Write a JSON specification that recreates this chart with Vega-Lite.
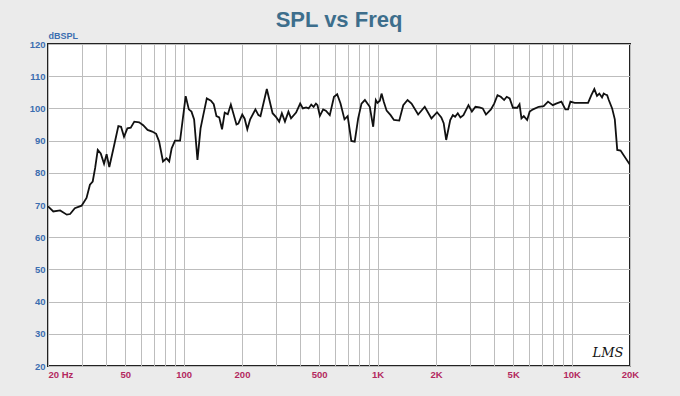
{
  "$schema": "https://vega.github.io/schema/vega-lite/v6.json",
  "width": 582,
  "height": 322,
  "autosize": {"type": "none"},
  "padding": {"left": 48, "top": 44, "right": 50, "bottom": 30},
  "background": "#ebebeb",
  "title": {
    "text": "SPL vs Freq",
    "fontSize": 22,
    "font": "Liberation Sans",
    "fontWeight": "bold",
    "color": "#3d6e8c",
    "anchor": "middle",
    "offset": -1
  },
  "config": {
    "view": {"fill": "white", "stroke": "#222222", "strokeWidth": 2},
    "axis": {
      "grid": true,
      "gridColor": "#bdbdbd",
      "gridWidth": 1,
      "domain": false,
      "ticks": false,
      "labelFont": "Liberation Sans",
      "labelFontWeight": "bold",
      "labelFontSize": 9.5
    }
  },
  "datasets": {
    "spl": [
      {"f": 20, "db": 69.6}, {"f": 21.3, "db": 68}, {"f": 23.1, "db": 68.3}, {"f": 25, "db": 67}, {"f": 26, "db": 67.2},
      {"f": 27.5, "db": 69}, {"f": 29.8, "db": 69.8}, {"f": 31.6, "db": 72.2}, {"f": 32.9, "db": 76.3}, {"f": 34, "db": 77.3},
      {"f": 35, "db": 81.5}, {"f": 36.1, "db": 87.1}, {"f": 37.4, "db": 86}, {"f": 38.9, "db": 82.8}, {"f": 40.1, "db": 85.8},
      {"f": 41.4, "db": 81.8}, {"f": 43.8, "db": 88.4}, {"f": 46.1, "db": 94.5}, {"f": 47.6, "db": 94.3}, {"f": 49.3, "db": 91.2},
      {"f": 51.3, "db": 93.8}, {"f": 53.4, "db": 94}, {"f": 55.7, "db": 95.9}, {"f": 59, "db": 95.7}, {"f": 61.9, "db": 94.8},
      {"f": 65.2, "db": 93.3}, {"f": 68.9, "db": 92.8}, {"f": 72.2, "db": 92.1}, {"f": 74.8, "db": 89.7}, {"f": 78.3, "db": 83.5},
      {"f": 81.7, "db": 84.5}, {"f": 84.3, "db": 83.5}, {"f": 86.8, "db": 87.6}, {"f": 90.3, "db": 90}, {"f": 95.9, "db": 90},
      {"f": 102.5, "db": 103.8}, {"f": 106.4, "db": 99.7}, {"f": 109.8, "db": 99}, {"f": 113.3, "db": 96.6}, {"f": 117.9, "db": 84},
      {"f": 122.3, "db": 93.8}, {"f": 126.3, "db": 97.9}, {"f": 131.7, "db": 103.1}, {"f": 138.3, "db": 102.4}, {"f": 143, "db": 101.3},
      {"f": 147.7, "db": 97.6}, {"f": 152.6, "db": 97.2}, {"f": 157.8, "db": 93.5}, {"f": 162.9, "db": 98.7}, {"f": 169, "db": 98.2},
      {"f": 175.2, "db": 101.2}, {"f": 187.3, "db": 95}, {"f": 191.5, "db": 95.3}, {"f": 200.6, "db": 98.1}, {"f": 206.4, "db": 96.8},
      {"f": 213, "db": 93.5}, {"f": 220.4, "db": 96.6}, {"f": 234.5, "db": 99.7}, {"f": 243, "db": 97.9}, {"f": 249, "db": 97.6},
      {"f": 268.5, "db": 106}, {"f": 287.5, "db": 98.5}, {"f": 299, "db": 97.4}, {"f": 311, "db": 95.9}, {"f": 321, "db": 98.5},
      {"f": 333, "db": 95.9}, {"f": 347, "db": 99}, {"f": 358, "db": 96.9}, {"f": 380, "db": 98.7}, {"f": 399, "db": 101.5},
      {"f": 412, "db": 100}, {"f": 428, "db": 100.3}, {"f": 441, "db": 100}, {"f": 455, "db": 101.2}, {"f": 468, "db": 100.5},
      {"f": 481, "db": 101.5}, {"f": 490, "db": 101}, {"f": 504, "db": 97.7}, {"f": 524, "db": 99.7}, {"f": 541, "db": 99.3},
      {"f": 567, "db": 97.9}, {"f": 596, "db": 103.6}, {"f": 619, "db": 104.4}, {"f": 644, "db": 101.5}, {"f": 675, "db": 96.6},
      {"f": 701, "db": 97.6}, {"f": 732, "db": 89.9}, {"f": 762, "db": 89.7}, {"f": 794, "db": 96.9}, {"f": 826, "db": 101.5},
      {"f": 860, "db": 102.6}, {"f": 911, "db": 100.5}, {"f": 949, "db": 94.3}, {"f": 979, "db": 102.6}, {"f": 999, "db": 101.7},
      {"f": 1027, "db": 102.4}, {"f": 1048, "db": 104.6}, {"f": 1077, "db": 102}, {"f": 1113, "db": 99.3}, {"f": 1167, "db": 97.9},
      {"f": 1214, "db": 96.4}, {"f": 1293, "db": 96.2}, {"f": 1356, "db": 101}, {"f": 1427, "db": 102.6}, {"f": 1496, "db": 101.5},
      {"f": 1618, "db": 98.1}, {"f": 1750, "db": 100.5}, {"f": 1895, "db": 96.9}, {"f": 2025, "db": 98.8}, {"f": 2130, "db": 97.2},
      {"f": 2191, "db": 95.4}, {"f": 2257, "db": 90.2}, {"f": 2368, "db": 96.4}, {"f": 2443, "db": 97.9}, {"f": 2509, "db": 97.4},
      {"f": 2590, "db": 98.5}, {"f": 2673, "db": 97.2}, {"f": 2770, "db": 97.9}, {"f": 2940, "db": 101}, {"f": 3062, "db": 99},
      {"f": 3195, "db": 100.5}, {"f": 3350, "db": 100.3}, {"f": 3482, "db": 100}, {"f": 3619, "db": 98.1}, {"f": 3838, "db": 99.7},
      {"f": 3990, "db": 101.5}, {"f": 4150, "db": 104.1}, {"f": 4314, "db": 103.6}, {"f": 4490, "db": 102.6}, {"f": 4630, "db": 103.6},
      {"f": 4795, "db": 103.1}, {"f": 4985, "db": 100.2}, {"f": 5245, "db": 100.2}, {"f": 5390, "db": 101.3}, {"f": 5515, "db": 96.9},
      {"f": 5670, "db": 97.6}, {"f": 5900, "db": 96.4}, {"f": 6080, "db": 99}, {"f": 6330, "db": 99.7}, {"f": 6770, "db": 100.5},
      {"f": 7180, "db": 100.7}, {"f": 7560, "db": 102.1}, {"f": 8000, "db": 101}, {"f": 8320, "db": 101.5}, {"f": 8860, "db": 102.1},
      {"f": 9290, "db": 99.7}, {"f": 9590, "db": 99.7}, {"f": 9860, "db": 102.1}, {"f": 10370, "db": 101.7}, {"f": 11320, "db": 101.7},
      {"f": 12160, "db": 101.7}, {"f": 12640, "db": 104.1}, {"f": 13100, "db": 106}, {"f": 13520, "db": 103.9}, {"f": 13900, "db": 104.6},
      {"f": 14350, "db": 103.4}, {"f": 14640, "db": 104.6}, {"f": 14940, "db": 104.3}, {"f": 15250, "db": 104.1}, {"f": 15550, "db": 102.6},
      {"f": 16180, "db": 100}, {"f": 16700, "db": 96.6}, {"f": 17190, "db": 87.1}, {"f": 17880, "db": 86.9}, {"f": 20000, "db": 82.5}
    ],
    "logo": [{"f": 15400, "db": 24, "label": "LMS"}]
  },
  "encoding": {
    "x": {
      "field": "f",
      "type": "quantitative",
      "scale": {"type": "log", "domain": [20, 20000], "nice": false},
      "axis": {
        "title": null,
        "values": [20, 30, 40, 50, 60, 70, 80, 90, 100, 200, 300, 400, 500, 600, 700, 800, 900, 1000, 2000, 3000, 4000, 5000, 6000, 7000, 8000, 9000, 10000, 20000],
        "labelExpr": "datum.value == 20 ? '20  Hz' : datum.value == 50 ? '50' : datum.value == 100 ? '100' : datum.value == 200 ? '200' : datum.value == 500 ? '500' : datum.value == 1000 ? '1K' : datum.value == 2000 ? '2K' : datum.value == 5000 ? '5K' : datum.value == 10000 ? '10K' : datum.value == 20000 ? '20K' : ''",
        "labelColor": "#b3285e",
        "labelPadding": 3,
        "labelAlign": {"condition": {"test": "datum.value == 20", "value": "left"}, "value": "center"},
        "labelOverlap": false,
        "labelBound": false,
        "labelFlush": false
      }
    },
    "y": {
      "field": "db",
      "type": "quantitative",
      "scale": {"domain": [20, 120], "nice": false, "zero": false},
      "axis": {
        "title": "dBSPL",
        "titleAngle": 0,
        "titleAlign": "left",
        "titleBaseline": "bottom",
        "titleX": 0,
        "titleY": -4,
        "titleFont": "Liberation Sans",
        "titleFontSize": 9,
        "titleFontWeight": "bold",
        "titleColor": "#3c6eb0",
        "values": [20, 30, 40, 50, 60, 70, 80, 90, 100, 110, 120],
        "labelColor": "#3c6eb0",
        "labelPadding": 3,
        "labelBaseline": "middle"
      }
    }
  },
  "layer": [
    {
      "data": {"name": "spl"},
      "mark": {"type": "line", "color": "#111111", "strokeWidth": 1.8, "clip": true}
    },
    {
      "data": {"name": "logo"},
      "mark": {"type": "text", "font": "DejaVu Serif", "fontStyle": "italic", "fontSize": 13, "color": "#111111"},
      "encoding": {"text": {"field": "label"}}
    }
  ]
}
